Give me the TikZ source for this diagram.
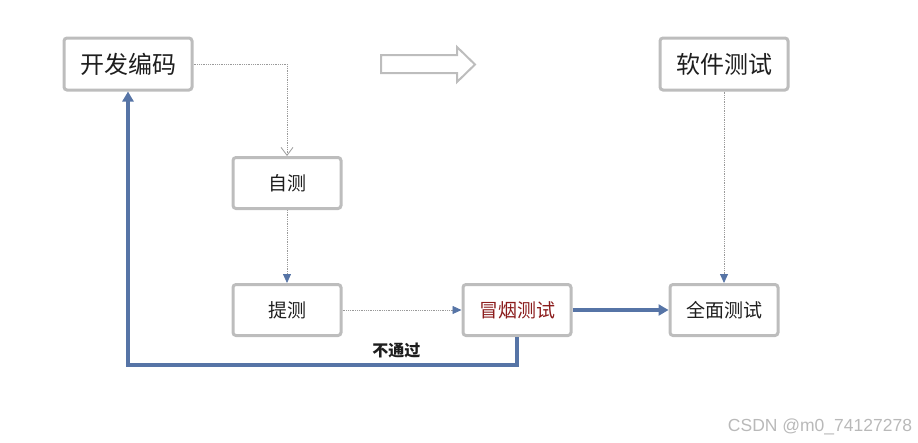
\documentclass[tikz,border=0pt]{standalone}
\usepackage{fontspec}
\setmainfont{Noto Sans CJK SC}
\newfontfamily\markfont{Liberation Sans}
\usetikzlibrary{arrows.meta}
\usetikzlibrary{positioning}

\definecolor{boxgray}{HTML}{BDBDBD}
\definecolor{linkblue}{HTML}{5674A6}
\definecolor{dotgray}{HTML}{9A9A9A}
\definecolor{smokered}{HTML}{8B1C1C}
\definecolor{inkgray}{HTML}{1E1E1E}

\tikzset{
  stage/.style={draw=boxgray, line width=3pt, rounded corners=3pt, fill=white,
    minimum width=108pt, minimum height=51pt, inner sep=0pt, text=inkgray,
    font=\fontsize{19}{19}\selectfont},
  bigstage/.style={stage, minimum width=128pt, minimum height=52pt,
    font=\fontsize{24}{24}\selectfont},
  dotlink/.style={draw=dotgray, line width=0.8pt, densely dotted,
    -{Triangle[length=9pt,width=8pt,color=linkblue]}},
  mainlink/.style={draw=linkblue, line width=3.2pt,
    -{Triangle[length=10pt,width=11pt]}},
}

\begin{document}
\begin{tikzpicture}[x=1pt,y=-1pt,node distance=2cm,on grid]
   \useasboundingbox (0,0) rectangle (918,442);
   \node[bigstage] (code) at (128,64) {开发编码};
   \node[stage] (selftest) at (287,183) {自测};
   \node[stage] (submit) [below=127pt of selftest] {提测};
   \node[stage,text=smokered] (smoke) [right=230pt of submit] {冒烟测试};
   \node[stage] (fulltest) [right=207pt of smoke] {全面测试};
   \node[bigstage] (swtest) [above=246pt of fulltest] {软件测试};
   % hollow arrow between the two phases
   \draw[boxgray, line width=2pt] (381,55) -- (457,55) -- (457,47) -- (475,64.5)
      -- (457,82) -- (457,73) -- (381,73) -- cycle;
   \draw[dotlink,-{Straight Barb[length=8pt,width=12pt,line width=0.8pt,color=dotgray]}]
      (code.east) -| (selftest.north);
   \draw[dotlink] (selftest) -- (submit);
   \draw[dotlink] (submit) -- (smoke);
   \draw[dotlink] (swtest) -- (fulltest);
   \draw[mainlink] (smoke) -- (fulltest);
   \draw[mainlink] (smoke.south) -- ++(0,28)
      -| node[pos=0.155,above=2pt,font=\bfseries\fontsize{16}{16}\selectfont,text=inkgray] (fail) {不通过}
      (code.south);
   \node[font=\markfont\fontsize{17.5}{17.5}\selectfont,text=gray!55] (mark) at (820,427) {CSDN @m0\_74127278};
\end{tikzpicture}
\end{document}
